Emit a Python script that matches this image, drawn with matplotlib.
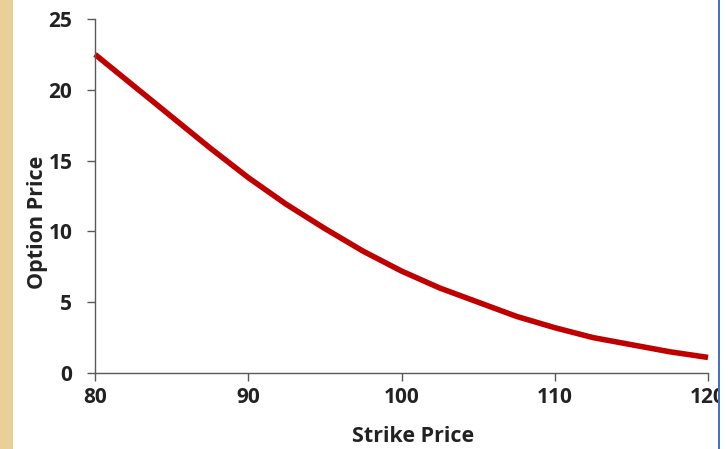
import matplotlib
matplotlib.use("Agg")
from matplotlib import pyplot as plt
from matplotlib.patches import Rectangle

# option price against strike
strikes = [80, 82.5, 85, 87.5, 90, 92.5, 95, 97.5, 100, 102.5, 105, 107.5, 110, 112.5, 115, 117.5, 120]
prices = [22.5, 20.3, 18.1, 15.9, 13.8, 11.9, 10.2, 8.6, 7.2, 6.0, 5.0, 4.0, 3.2, 2.5, 2.0, 1.5, 1.1]
x_ticks = [80, 90, 100, 110, 120]
y_ticks = [0, 5, 10, 15, 20, 25]

plt.rcParams['font.family'] = ['Open Sans', 'DejaVu Sans']

W, H = 728, 449
fig = plt.figure(figsize=(W / 100, H / 100), dpi=100)
fig.patch.set_facecolor('white')

ax = fig.add_axes([95 / W, (H - 373) / H, (708 - 95) / W, (373 - 19) / H])
ax.plot(strikes, prices, color='#C00000', lw=4.0, solid_capstyle='butt',
        solid_joinstyle='round', clip_on=False)

ax.set_xlim(80, 120)
ax.set_ylim(0, 25)
ax.set_xticks(x_ticks)
ax.set_yticks(y_ticks)
for s in ['top', 'right']:
    ax.spines[s].set_visible(False)
for s in ['left', 'bottom']:
    ax.spines[s].set_color('#595959')
    ax.spines[s].set_linewidth(1.0)
ax.tick_params(direction='out', length=5.8, width=1.0, color='#595959',
               labelsize=15, labelcolor='#222222')
ax.tick_params(axis='x', pad=4)
ax.tick_params(axis='y', pad=10.5)
for lab in ax.get_xticklabels() + ax.get_yticklabels():
    lab.set_fontweight('bold')

fig.text(413 / W, 1 - 437 / H, 'Strike Price', ha='center', va='center',
         fontsize=15.5, fontweight='bold', color='#222222')
fig.text(37 / W, 1 - 222 / H, 'Option Price', ha='center', va='center', rotation=90,
         fontsize=15.5, fontweight='bold', color='#222222')

# tan slide edge on the left, blue frame on the right
fig.add_artist(Rectangle((0, 0), 13 / W, 1, transform=fig.transFigure,
                         facecolor='#E9CF98', edgecolor='none', zorder=10))
fig.add_artist(Rectangle((718 / W, 0), 10 / W, 1, transform=fig.transFigure,
                         facecolor='white', edgecolor='none', zorder=10))
fig.add_artist(Rectangle((718 / W, 0), 2 / W, 1, transform=fig.transFigure,
                         facecolor='#4472C4', edgecolor='none', zorder=11))

fig.savefig('out.png', dpi=100)
